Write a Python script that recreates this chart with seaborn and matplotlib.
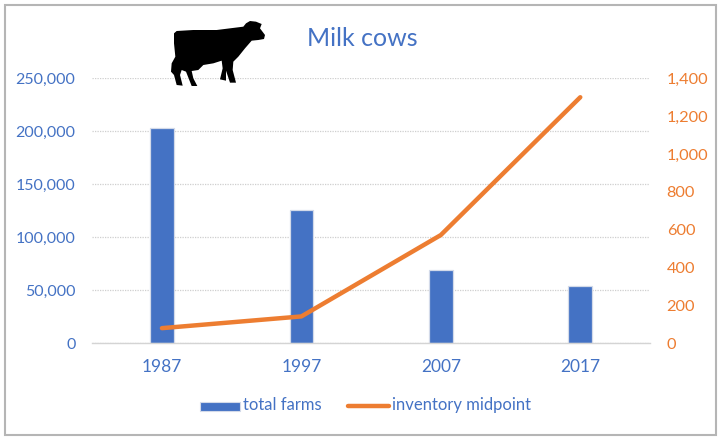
import matplotlib
matplotlib.use("Agg")
import matplotlib.pyplot as plt
from matplotlib.patches import Polygon, Rectangle
from matplotlib.ticker import FuncFormatter
import seaborn as sns
import pandas as pd

years = ["1987", "1997", "2007", "2017"]
total_farms = [202800, 125800, 69200, 54100]
inventory_midpoint = [80, 142, 572, 1300]
left_ticks = [0, 50000, 100000, 150000, 200000, 250000]
right_ticks = [0, 200, 400, 600, 800, 1000, 1200, 1400]

BLUE = "#4472C4"
ORANGE = "#ED7D31"
W, H = 723, 442

sns.set_theme(style="white")
plt.rcParams["font.family"] = ["Lato", "DejaVu Sans"]

df = pd.DataFrame({"year": years, "farms": total_farms, "mid": inventory_midpoint})

fig = plt.figure(figsize=(W / 100, H / 100), dpi=100)
fig.patch.set_facecolor("white")
ax = fig.add_axes([92.2 / W, 1 - 343.3 / H, 557.8 / W, 265 / H])
sns.barplot(data=df, x="year", y="farms", color=BLUE, saturation=1, width=0.17, ax=ax, zorder=2,
            edgecolor="#D3DAE9", linewidth=0.9)
ax.set_xlim(-0.5, 3.5)
ax.set_ylim(0, 250000)
ax.set_yticks(left_ticks)
ax.yaxis.set_major_formatter(FuncFormatter(lambda v, _: f"{int(v):,}"))
ax.set_xlabel("")
ax.set_ylabel("")
ax.grid(axis="y", color="#CFCFCF", linewidth=0.9, linestyle=(0, (1, 1)), zorder=0)
ax.grid(axis="x", visible=False)
ax.set_axisbelow(True)
for s in ["top", "left", "right"]:
    ax.spines[s].set_visible(False)
ax.spines["bottom"].set_color("#D4D4D4")
ax.spines["bottom"].set_linewidth(1.0)
ax.tick_params(axis="x", colors=BLUE, labelsize=12.5, length=0, pad=11)
ax.tick_params(axis="y", colors=BLUE, labelsize=11.5, length=0, pad=12)

ax2 = ax.twinx()
sns.lineplot(data=df, x="year", y="mid", color=ORANGE, linewidth=3.2, ax=ax2, zorder=3,
             solid_capstyle="round", errorbar=None)
ax2.set_ylim(0, 1400)
ax2.set_yticks(right_ticks)
ax2.yaxis.set_major_formatter(FuncFormatter(lambda v, _: f"{int(v):,}"))
ax2.set_xlabel("")
ax2.set_ylabel("")
ax2.grid(False)
for s in ax2.spines.values():
    s.set_visible(False)
ax2.tick_params(axis="y", colors=ORANGE, labelsize=11.8, length=0, pad=12)

fig.text(362 / W, 1 - 38 / H, "Milk cows", color=BLUE, fontsize=18, ha="center", va="center")

# legend, placed by hand to match the reference
fig.add_artist(Rectangle((199.5 / W, 1 - 411 / H), 40 / W, 9.5 / H, transform=fig.transFigure,
                         facecolor=BLUE, edgecolor="#D3DAE9", linewidth=0.8))
fig.text(243 / W, 1 - 405 / H, "total farms", color=BLUE, fontsize=12, va="center")
fig.add_artist(plt.Line2D([347.5 / W, 388.5 / W], [1 - 406 / H] * 2, color=ORANGE, linewidth=3.2,
                          solid_capstyle="round", transform=fig.transFigure))
fig.text(392 / W, 1 - 405 / H, "inventory midpoint", color=BLUE, fontsize=12, va="center")

# outer chart frame
fig.add_artist(Rectangle((4.5 / W, 1 - 435 / H), 711 / W, 430 / H, transform=fig.transFigure,
                         fill=False, edgecolor="#B5B5B5", linewidth=1.5))

# cow silhouette, traced in zoomed pixels of the reference
cow = [(72, 100), (80, 93), (130, 90), (200, 90), (280, 80), (288, 70), (300, 63), (318, 65), (335, 72),
       (330, 85), (345, 105), (342, 117), (325, 120), (305, 122), (285, 145), (265, 170), (250, 185),
       (248, 210), (258, 248), (240, 248), (228, 212), (228, 242), (210, 238), (218, 205), (215, 182),
       (190, 190), (160, 195), (145, 210), (125, 213), (130, 235), (142, 258), (125, 258), (108, 215),
       (95, 210), (90, 225), (98, 257), (80, 255), (72, 225), (63, 215), (65, 190), (76, 170), (72, 130)]
pts = [((150 + x / 3) / W, 1 - (y / 3) / H) for x, y in cow]
fig.add_artist(Polygon(pts, closed=True, transform=fig.transFigure, facecolor="black", edgecolor="none", zorder=5))

fig.savefig("out.png", dpi=100)
